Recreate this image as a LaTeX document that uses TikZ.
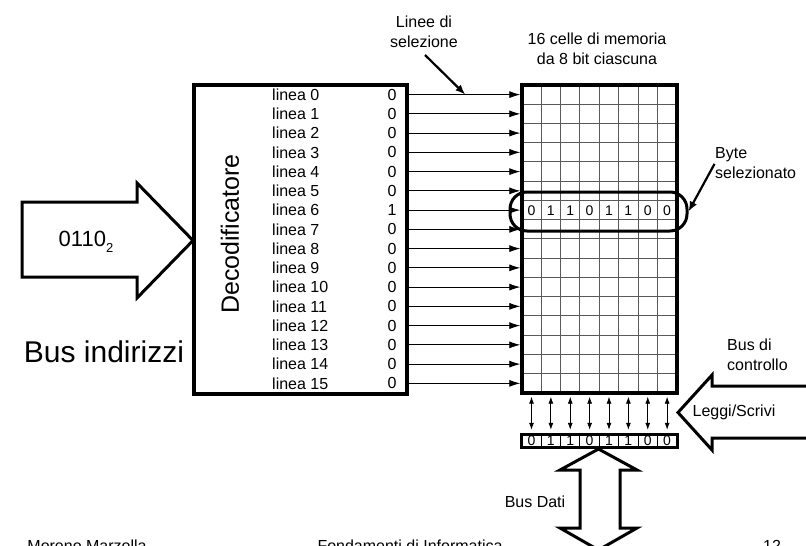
\documentclass[tikz,border=0pt]{standalone}
\usepackage{fontspec}
\setmainfont{Liberation Sans}
\usetikzlibrary{arrows.meta, positioning, calc}

\begin{document}
\begin{tikzpicture}[x=1pt, y=-1pt,
    txt/.style={font=\fontsize{16}{20}\selectfont, inner sep=0pt},
    bigtxt/.style={font=\fontsize{25}{30}\selectfont, inner sep=0pt},
    bittxt/.style={font=\fontsize{14}{14}\selectfont, inner sep=0pt},
    selline/.style={-{Latex[length=11pt, width=7pt]}, line width=0.8pt, shorten >=1.5pt},
    busline/.style={{Latex[length=7pt, width=5pt]}-{Latex[length=7pt, width=5pt]}, line width=0.8pt},
    bigarrow/.style={draw, line width=3pt, fill=white, line join=miter},
    cellline/.style={black!65, line width=0.9pt},
    note/.style={-{Latex[length=10pt, width=8pt]}, line width=2.2pt},
]
    \useasboundingbox (0,0) rectangle (806,546);
    \clip (0,0) rectangle (806,546);

    % Decoder
    \node[draw, line width=3.5pt, minimum width=213pt, minimum height=309pt, inner sep=0pt] (dec) at (300.5,239.5) {};
    \node[bigtxt, rotate=90] (decname) at (230,234) {Decodificatore};

    % Memory cells
    \node[minimum width=155pt, minimum height=308pt, inner sep=0pt] (mem) at (599.5,239) {};
    \foreach \c in {1,...,7}
        \draw[cellline] ($(mem.north west)+(\c*19.375,0)$) -- ($(mem.south west)+(\c*19.375,0)$);
    \foreach \r in {1,...,15}
        \draw[cellline] ($(mem.north west)+(0,\r*19.25)$) -- ($(mem.north east)+(0,\r*19.25)$);
    \draw[line width=3.5pt] (mem.north west) rectangle (mem.south east);

    % Selection lines
    \foreach \i in {0,...,15} {
        \pgfmathsetmacro{\ry}{94.6+19.25*\i}
        \node[txt, anchor=west] (lin\i) at (272,\ry) {linea \i};
        \node[txt] (bit\i) at (392,\ry) {\ifnum\i=6 1\else 0\fi};
        \draw[selline] (dec.east |- lin\i) -- (mem.west |- lin\i);
    }

    % Selected byte
    \foreach \b [count=\c from 0] in {0,1,1,0,1,1,0,0}
        \node[bittxt] (sb\c) at ($(mem.north west)+(9.7+19.375*\c,125.6)$) {\b};
    \node[draw, line width=3pt, rounded corners=17pt, minimum width=177pt, minimum height=39pt] (selbyte) at (598.5,211.5) {};

    % Labels on top
    \node[txt, align=center] (selnote) at (424,32) {Linee di\\selezione};
    \coordinate (selfrom) at (425,55);
    \draw[note] (selfrom) -- ($(dec.east |- lin0)!0.5!(mem.west |- lin0)$);
    \node[txt, align=center] (memnote) at (597,49) {16 celle di memoria\\da 8 bit ciascuna};

    \node[txt, align=left, anchor=west] (bytenote) at (715,163) {Byte\\selezionato};
    \draw[note, shorten <=1pt] (bytenote.west) -- (selbyte.east);

    % Address bus
    \draw[bigarrow] (22,202) -- (137,202) -- (137,183) -- (193,240.5) -- (137,298) -- (137,277) -- (22,277) -- cycle;
    \node[font=\fontsize{22}{26}\selectfont, inner sep=0pt] (addr) at (86,242) {0110\raisebox{-0.55ex}{\fontsize{13}{13}\selectfont 2}};
    \node[font=\fontsize{30}{36}\selectfont, inner sep=0pt] (addrbus) at (104,352) {Bus indirizzi};

    % Data register
    \node[minimum width=155pt, minimum height=13pt, inner sep=0pt] (reg) at (599.5,441) {};
    \foreach \c in {1,...,7}
        \draw[line width=0.9pt] ($(reg.north west)+(\c*19.375,0)$) -- ($(reg.south west)+(\c*19.375,0)$);
    \draw[line width=3pt] (reg.north west) rectangle (reg.south east);
    \foreach \b [count=\c from 0] in {0,1,1,0,1,1,0,0} {
        \node[bittxt] (rb\c) at ($(reg.west)+(9.7+19.375*\c,0)$) {\b};
        \draw[busline, shorten <=3.5pt, shorten >=4.5pt] (mem.south -| rb\c) -- (reg.north -| rb\c);
    }

    % Control bus
    \node[txt, align=left, anchor=west] (ctrlnote) at (727,355) {Bus di\\controllo};
    \draw[bigarrow] (812,386) -- (712,386) -- (712,375) -- (678,412.5) -- (712,450) -- (712,438) -- (812,438);
    \node[txt] (rw) at (734,412) {Leggi/Scrivi};

    % Data bus
    \draw[bigarrow] (598.5,449) -- (637,470) -- (620,470) -- (620,528) -- (637,528) -- (598.5,550) -- (560,528) -- (580,528) -- (580,470) -- (560,470) -- cycle;
    \node[txt] (databus) at (535,502) {Bus Dati};

    % Footer
    \node[txt] (author) at (87,546) {Moreno Marzolla};
    \node[txt] (course) at (410,546) {Fondamenti di Informatica};
    \node[txt] (page) at (772,546) {12};
\end{tikzpicture}
\end{document}
